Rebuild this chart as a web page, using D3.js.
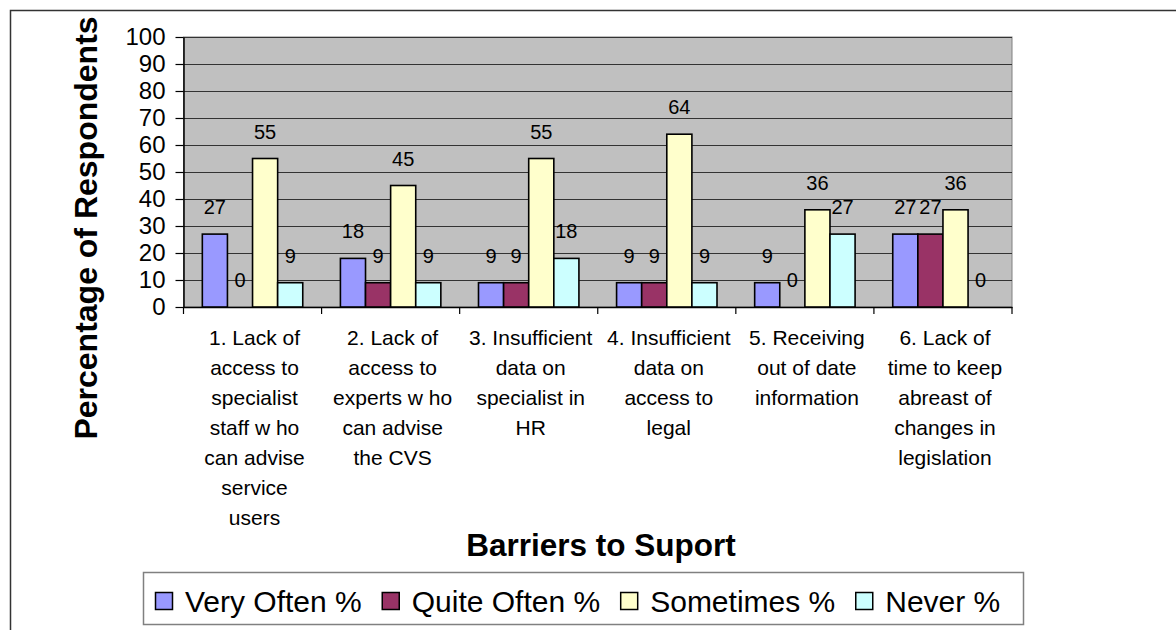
<!DOCTYPE html>
<html>
<head>
<meta charset="utf-8">
<script src="https://cdn.jsdelivr.net/npm/d3@7"></script>
<style>
  html, body { margin: 0; padding: 0; background: #fff; }
  svg { display: block; }
  text { font-family: "Liberation Sans", Arial, sans-serif; fill: #000; }
</style>
</head>
<body>
<svg id="chart" width="1176" height="630"></svg>
<script>
// Barriers to support survey: share of respondents per answer
const categories = [
  ["1. Lack of", "access to", "specialist", "staff w ho", "can advise", "service", "users"],
  ["2. Lack of", "access to", "experts w ho", "can advise", "the CVS"],
  ["3. Insufficient", "data on", "specialist in", "HR"],
  ["4. Insufficient", "data on", "access to", "legal"],
  ["5. Receiving", "out of date", "information"],
  ["6. Lack of", "time to keep", "abreast of", "changes in", "legislation"]
];
const seriesNames = ["Very Often %", "Quite Often %", "Sometimes %", "Never %"];
const veryOften  = [27, 18, 9, 9, 9, 27];
const quiteOften = [0, 9, 9, 9, 0, 27];
const sometimes  = [55, 45, 55, 64, 36, 36];
const never      = [9, 9, 18, 9, 27, 0];
const seriesColors = ["#9999FF", "#993366", "#FFFFCC", "#CCFFFF"];
const yTicks = [0, 10, 20, 30, 40, 50, 60, 70, 80, 90, 100];
const yTitle = "Percentage of Respondents";
const xTitle = "Barriers to Suport";

const seriesValues = [veryOften, quiteOften, sometimes, never];
const svg = d3.select("#chart");

// outer chart frame (only top and left edges fall inside the canvas)
svg.append("rect")
  .attr("x", 10.5).attr("y", 10.5)
  .attr("width", 1300).attr("height", 800)
  .attr("fill", "none").attr("stroke", "#333").attr("stroke-width", 1.5);

const plot = { left: 183.5, right: 1012, top: 37, bottom: 307 };

const x0 = d3.scaleBand()
  .domain(d3.range(categories.length))
  .range([plot.left, plot.right])
  .padding(0);

const x1 = d3.scaleBand()
  .domain(d3.range(seriesNames.length))
  .range([0, x0.bandwidth()])
  .paddingInner(0)
  .paddingOuter(0.75);

const y = d3.scaleLinear().domain([0, 100]).range([plot.bottom, plot.top]);

// plot background
svg.append("rect")
  .attr("x", plot.left).attr("y", plot.top)
  .attr("width", plot.right - plot.left).attr("height", plot.bottom - plot.top)
  .attr("fill", "#C0C0C0")
  .attr("stroke", "#808080").attr("stroke-width", 1);

// gridlines
svg.append("g")
  .selectAll("line")
  .data(yTicks.filter(t => t > 0))
  .join("line")
  .attr("x1", plot.left).attr("x2", plot.right)
  .attr("y1", d => Math.round(y(d)) + 0.5).attr("y2", d => Math.round(y(d)) + 0.5)
  .attr("stroke", "#333").attr("stroke-width", 1);

// y axis
const yAxis = d3.axisLeft(y).tickValues(yTicks).tickSize(8).tickPadding(10).tickSizeOuter(0);
const gy = svg.append("g")
  .attr("transform", `translate(${plot.left},0)`)
  .call(yAxis);
gy.select(".domain").attr("stroke", "#000").attr("stroke-width", 1.5);
gy.selectAll(".tick line").attr("stroke", "#000").attr("stroke-width", 1.2);
gy.selectAll(".tick text")
  .attr("font-size", 24)
  .attr("font-family", "Liberation Sans, Arial, sans-serif")
  .attr("fill", "#000")
  .attr("dy", "0.3em");

// x axis baseline with category boundary ticks
const xAxis = d3.axisBottom(x0).tickValues([]).tickSizeOuter(0);
const gx = svg.append("g")
  .attr("transform", `translate(0,${plot.bottom})`)
  .call(xAxis);
gx.select(".domain").attr("stroke", "#000").attr("stroke-width", 1.5);
gx.selectAll("line.bound")
  .data(d3.range(categories.length + 1))
  .join("line")
  .attr("class", "bound")
  .attr("x1", i => i < categories.length ? x0(i) : plot.right)
  .attr("x2", i => i < categories.length ? x0(i) : plot.right)
  .attr("y1", 0).attr("y2", 7)
  .attr("stroke", "#000").attr("stroke-width", 1.2);

// bars
const groups = svg.append("g")
  .selectAll("g")
  .data(categories.map((c, i) => i))
  .join("g")
  .attr("transform", i => `translate(${x0(i)},0)`);

groups.selectAll("rect")
  .data(i => seriesValues.map((vals, s) => ({ s, v: vals[i] })))
  .join("rect")
  .attr("x", d => x1(d.s))
  .attr("width", x1.bandwidth())
  .attr("y", d => y(d.v))
  .attr("height", d => y(0) - y(d.v))
  .attr("fill", d => seriesColors[d.s])
  .attr("stroke", "#000").attr("stroke-width", 1.6);

// value labels
groups.selectAll("text.val")
  .data(i => seriesValues.map((vals, s) => ({ s, v: vals[i] })))
  .join("text")
  .attr("class", "val")
  .attr("x", d => x1(d.s) + x1.bandwidth() / 2)
  .attr("y", d => y(d.v) - 20)
  .attr("text-anchor", "middle")
  .attr("font-size", 20)
  .text(d => d.v);

// category labels
const catLabels = svg.append("g")
  .selectAll("text")
  .data(categories)
  .join("text")
  .attr("x", (c, i) => x0(i) + x0.bandwidth() / 2 + 2)
  .attr("y", 345)
  .attr("text-anchor", "middle")
  .attr("font-size", 21);
catLabels.selectAll("tspan")
  .data(c => c)
  .join("tspan")
  .attr("x", function () { return this.parentNode.getAttribute("x"); })
  .attr("dy", (d, j) => j === 0 ? 0 : 30)
  .text(d => d);

// axis titles
svg.append("text")
  .attr("transform", "translate(97,228) rotate(-90)")
  .attr("text-anchor", "middle")
  .attr("font-size", 32)
  .attr("font-weight", "bold")
  .text(yTitle);

svg.append("text")
  .attr("x", 601).attr("y", 556)
  .attr("text-anchor", "middle")
  .attr("font-size", 31.5)
  .attr("font-weight", "bold")
  .text(xTitle);

// legend
const legend = svg.append("g");
legend.append("rect")
  .attr("x", 143.5).attr("y", 572.5)
  .attr("width", 880).attr("height", 52)
  .attr("fill", "#fff")
  .attr("stroke", "#808080").attr("stroke-width", 1.5);

let lx = 155;
seriesNames.forEach((name, s) => {
  legend.append("rect")
    .attr("x", lx + 0.5).attr("y", 592.5)
    .attr("width", 17).attr("height", 17)
    .attr("fill", seriesColors[s])
    .attr("stroke", "#000").attr("stroke-width", 1.5);
  const t = legend.append("text")
    .attr("x", lx + 30).attr("y", 612)
    .attr("font-size", 30)
    .text(name);
  lx += 30 + t.node().getComputedTextLength() + 20;
});
</script>
</body>
</html>
